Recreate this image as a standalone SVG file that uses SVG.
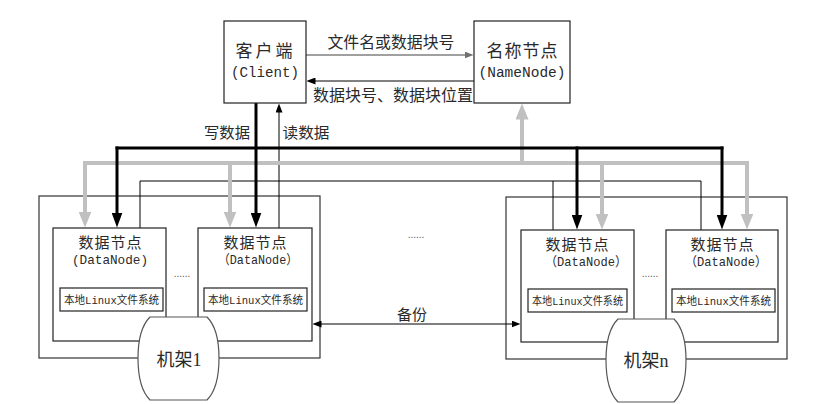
<svg xmlns="http://www.w3.org/2000/svg" width="824" height="404" viewBox="0 0 824 404">
<style>
  .box { fill: #fff; stroke: #222; stroke-width: 1.2; }
  .rack { fill: #fff; stroke: #333; stroke-width: 1.2; }
  .cyl { fill: #fff; stroke: #555; stroke-width: 1.2; }
  .t { font-family: "Liberation Mono", "Noto Sans CJK SC", monospace; fill: #2a2a2a; text-anchor: middle; }
  .cn { font-family: "Noto Sans CJK SC", "Liberation Sans", sans-serif; fill: #2a2a2a; text-anchor: middle; }
  .rk { font-family: "Liberation Serif", "Noto Sans CJK SC", serif; fill: #2a2a2a; text-anchor: middle; font-size: 18px; }
  .dots { font-family: "Liberation Sans", sans-serif; fill: #555; text-anchor: middle; font-size: 10px; }
  .blk { stroke: #000; stroke-width: 3; fill: none; stroke-linecap: square; }
  .gry { stroke: #c0c0c0; stroke-width: 4; fill: none; stroke-linecap: square; }
  .thin { stroke: #000; stroke-width: 1; fill: none; }
  .thing { stroke: #808080; stroke-width: 1.5; fill: none; }
</style>
<defs>
  <marker id="ah-blk" markerUnits="userSpaceOnUse" viewBox="0 0 15 11" markerWidth="15" markerHeight="11" refX="0.5" refY="5.5" orient="auto">
    <path d="M0,0 L15,5.5 L0,11 Z" fill="#000"/>
  </marker>
  <marker id="ah-gry" markerUnits="userSpaceOnUse" viewBox="0 0 16 13" markerWidth="16" markerHeight="13" refX="0.5" refY="6.5" orient="auto">
    <path d="M0,0 L16,6.5 L0,13 Z" fill="#c0c0c0"/>
  </marker>
  <marker id="ah-sm" markerUnits="userSpaceOnUse" viewBox="0 0 9 7" markerWidth="9" markerHeight="7" refX="0.5" refY="3.5" orient="auto-start-reverse">
    <path d="M0,0 L9,3.5 L0,7 Z" fill="#000"/>
  </marker>
  <marker id="ah-smg" markerUnits="userSpaceOnUse" viewBox="0 0 9 7" markerWidth="9" markerHeight="7" refX="0.5" refY="3.5" orient="auto">
    <path d="M0,0 L9,3.5 L0,7 Z" fill="#707070"/>
  </marker>
</defs>
<rect width="824" height="404" fill="#fff"/>

<g id="rack1">
  <rect class="rack" x="39" y="196" width="281" height="162"/>
</g>
<g id="rackn">
  <rect class="rack" x="506" y="197" width="281" height="162"/>
</g>

<g id="connectors">
  <!-- client <-> namenode -->
  <line class="thing" x1="306" y1="55" x2="465" y2="55" marker-end="url(#ah-smg)"/>
  <line class="thin" x1="474" y1="81" x2="315" y2="81" stroke-width="1.5" marker-end="url(#ah-sm)"/>
  <!-- read data (thin) -->
  <path class="thin" d="M140,228 V181 H701 V230"/>
  <line class="thin" x1="553" y1="181" x2="553" y2="230"/>
  <line class="thin" x1="279" y1="228" x2="279" y2="112" marker-end="url(#ah-sm)"/>
  <!-- gray heartbeat/report -->
  <line class="gry" x1="85" y1="163" x2="747" y2="163"/>
  <line class="gry" x1="85" y1="163" x2="85" y2="212" marker-end="url(#ah-gry)"/>
  <line class="gry" x1="230" y1="163" x2="230" y2="212" marker-end="url(#ah-gry)"/>
  <line class="gry" x1="602" y1="163" x2="602" y2="214" marker-end="url(#ah-gry)"/>
  <line class="gry" x1="747" y1="163" x2="747" y2="214" marker-end="url(#ah-gry)"/>
  <line class="gry" x1="522" y1="163" x2="522" y2="119" marker-end="url(#ah-gry)"/>
  <!-- write data (black thick) -->
  <line class="blk" x1="117" y1="148" x2="722" y2="148"/>
  <line class="blk" x1="117" y1="148" x2="117" y2="213" marker-end="url(#ah-blk)"/>
  <line class="blk" x1="256" y1="104" x2="256" y2="213" marker-end="url(#ah-blk)"/>
  <line class="blk" x1="577" y1="148" x2="577" y2="215" marker-end="url(#ah-blk)"/>
  <line class="blk" x1="722" y1="148" x2="722" y2="215" marker-end="url(#ah-blk)"/>
  <!-- backup -->
  <line class="thin" x1="321" y1="324" x2="512" y2="324" marker-start="url(#ah-sm)" marker-end="url(#ah-sm)"/>
</g>

<g id="labels">
  <text class="cn" x="391" y="48" font-size="16" textLength="127" lengthAdjust="spacingAndGlyphs">文件名或数据块号</text>
  <text class="cn" x="393" y="101" font-size="16" textLength="160" lengthAdjust="spacingAndGlyphs">数据块号、数据块位置</text>
  <text class="cn" x="227" y="138" font-size="15" textLength="46" lengthAdjust="spacingAndGlyphs">写数据</text>
  <text class="cn" x="306" y="138" font-size="15" textLength="47" lengthAdjust="spacingAndGlyphs">读数据</text>
  <text class="cn" x="412" y="320" font-size="15">备份</text>
  <text class="dots" x="416" y="238">......</text>
</g>

<g id="client">
  <rect class="box" x="224" y="21" width="82" height="82"/>
  <text class="cn" x="264" y="57" font-size="17" textLength="57" lengthAdjust="spacing">客户端</text>
  <text class="t" x="265" y="77" font-size="14" textLength="68" lengthAdjust="spacingAndGlyphs">(Client)</text>
</g>

<g id="namenode">
  <rect class="box" x="474" y="21" width="96" height="82"/>
  <text class="cn" x="522" y="57" font-size="17" textLength="71" lengthAdjust="spacing">名称节点</text>
  <text class="t" x="522" y="77" font-size="14" textLength="87" lengthAdjust="spacingAndGlyphs">(NameNode)</text>
</g>

<g id="datanode1">
  <rect class="box" x="53" y="228" width="113" height="113"/>
  <text class="cn" x="110" y="248" font-size="15" textLength="63" lengthAdjust="spacing">数据节点</text>
  <text class="t" x="110" y="264" font-size="13" textLength="76" lengthAdjust="spacingAndGlyphs">(DataNode)</text>
  <rect class="box" x="60" y="288" width="103" height="23"/>
  <text class="t" x="111.5" y="304" font-size="11" textLength="95" lengthAdjust="spacingAndGlyphs">本地Linux文件系统</text>
</g>
<g id="datanode2">
  <rect class="box" x="198" y="228" width="114" height="113"/>
  <text class="cn" x="255" y="248" font-size="15" textLength="63" lengthAdjust="spacing">数据节点</text>
  <text class="t" x="258" y="264" font-size="13" textLength="80" lengthAdjust="spacingAndGlyphs">（DataNode）</text>
  <rect class="box" x="204" y="288" width="103" height="23"/>
  <text class="t" x="255.5" y="304" font-size="11" textLength="95" lengthAdjust="spacingAndGlyphs">本地Linux文件系统</text>
</g>
<g id="datanode3">
  <rect class="box" x="521" y="230" width="113" height="112"/>
  <text class="cn" x="577" y="250" font-size="15" textLength="63" lengthAdjust="spacing">数据节点</text>
  <text class="t" x="586" y="266" font-size="13" textLength="82" lengthAdjust="spacingAndGlyphs">（DataNode）</text>
  <rect class="box" x="528" y="289" width="99" height="23"/>
  <text class="t" x="577.5" y="305" font-size="11" textLength="91" lengthAdjust="spacingAndGlyphs">本地Linux文件系统</text>
</g>
<g id="datanode4">
  <rect class="box" x="666" y="230" width="112" height="112"/>
  <text class="cn" x="722" y="250" font-size="15" textLength="63" lengthAdjust="spacing">数据节点</text>
  <text class="t" x="726" y="266" font-size="13" textLength="82" lengthAdjust="spacingAndGlyphs">（DataNode）</text>
  <rect class="box" x="672" y="289" width="103" height="23"/>
  <text class="t" x="723.5" y="305" font-size="11" textLength="95" lengthAdjust="spacingAndGlyphs">本地Linux文件系统</text>
</g>

<g id="rack1-label">
  <text class="dots" x="182" y="277">......</text>
  <path class="cyl" d="M150,317 L207,317 C215,325 219,340 219,358 C219,378 215,392 207,400 L150,400 C142,392 138,378 138,358 C138,340 142,325 150,317 Z"/>
  <text class="rk" x="179" y="366">机架1</text>
</g>
<g id="rackn-label">
  <text class="dots" x="650" y="277">......</text>
  <path class="cyl" d="M618,319 L674,319 C682,327 686,342 686,360 C686,380 682,394 674,402 L618,402 C610,394 606,380 606,360 C606,342 610,327 618,319 Z"/>
  <text class="rk" x="646" y="367">机架n</text>
</g>
</svg>
